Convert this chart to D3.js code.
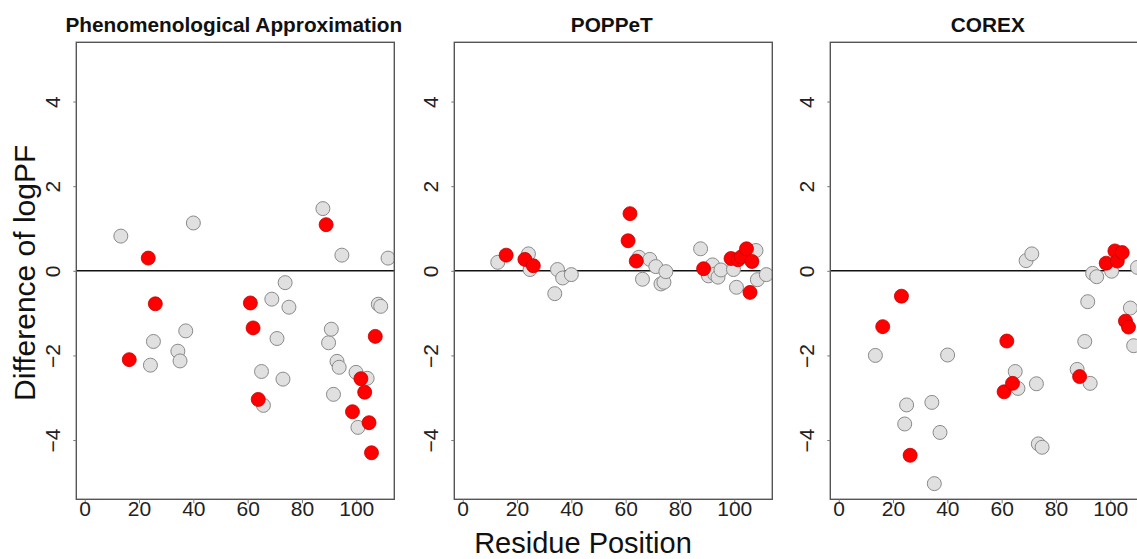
<!DOCTYPE html>
<html>
<head>
<meta charset="utf-8">
<script src="https://cdn.jsdelivr.net/npm/d3@7"></script>
<style>
  body { margin: 0; background: #fff; }
  svg { display: block; font-family: Arial, "Liberation Sans", sans-serif; }
</style>
</head>
<body>
<svg id="chart" width="1137" height="559"></svg>
<script>
// panel titles
var titles = ['Phenomenological Approximation', 'POPPeT', 'COREX'];

// [residue, difference of logPF]
var phenomGray = [[13.3,0.82],[24.2,-2.23],[25.3,-1.67],[34.3,-1.90],[35.1,-2.13],[37.2,-1.42],[40.0,1.13],
  [65.1,-2.38],[65.8,-3.18],[68.9,-0.67],[70.8,-1.60],[73.0,-2.56],[73.8,-0.28],[75.2,-0.86],[87.7,1.47],
  [89.8,-1.70],[90.8,-1.38],[91.6,-2.92],[92.9,-2.14],[93.7,-2.28],[94.7,0.37],[99.9,-2.40],[100.6,-3.70],
  [104.0,-2.54],[108.1,-0.79],[109.0,-0.84],[111.7,0.30]];
var phenomRed = [[16.4,-2.10],[23.4,0.30],[26.0,-0.78],[61.0,-0.76],[62.0,-1.35],[63.9,-3.04],[88.9,1.09],
  [98.6,-3.33],[101.7,-2.55],[103.1,-2.87],[104.7,-3.59],[105.6,-4.30],[107.0,-1.55]];

var poppetGray = [[12.9,0.20],[24.2,0.40],[24.8,0.03],[33.9,-0.54],[34.9,0.03],[36.8,-0.17],[40.0,-0.09],
  [64.9,0.32],[66.2,-0.20],[68.9,0.27],[71.1,0.10],[73.0,-0.31],[74.1,-0.27],[74.8,-0.02],[87.6,0.52],
  [90.5,-0.12],[92.0,0.14],[92.8,-0.08],[94.0,-0.15],[95.1,0.02],[99.7,0.03],[100.8,-0.39],[108.0,0.48],
  [108.5,-0.21],[111.8,-0.09]];
var poppetRed = [[16.0,0.37],[22.9,0.27],[26.0,0.12],[60.9,0.71],[61.6,1.35],[63.9,0.23],[88.7,0.05],
  [98.8,0.29],[101.4,0.26],[102.6,0.33],[104.5,0.52],[105.8,-0.51],[106.5,0.22]];

var corexGray = [[13.5,-2.00],[24.3,-3.62],[25.0,-3.17],[34.3,-3.11],[35.2,-5.03],[37.3,-3.82],[40.1,-1.99],
  [65.0,-2.38],[66.0,-2.78],[69.0,0.24],[71.1,0.40],[72.8,-2.67],[73.5,-4.09],[74.9,-4.17],[87.8,-2.33],
  [90.6,-1.67],[91.7,-0.73],[92.6,-2.66],[93.5,-0.06],[95.0,-0.14],[100.5,-0.01],[107.4,-0.88],
  [108.6,-1.77],[110.0,0.08]];
var corexRed = [[16.2,-1.32],[23.1,-0.60],[26.3,-4.36],[60.9,-2.86],[61.9,-1.66],[64.0,-2.66],[88.7,-2.50],
  [98.5,0.18],[101.7,0.47],[102.6,0.23],[104.4,0.43],[105.6,-1.19],[106.7,-1.33]];

var xTicks = [0, 20, 40, 60, 80, 100];
var yTicks = [-4, -2, 0, 2, 4];

var grays = [phenomGray, poppetGray, corexGray];
var reds = [phenomRed, poppetRed, corexRed];

var svg = d3.select('#chart');
var panelLeft = [76.3, 454.3, 830.3];
var panelW = 318, plotTop = 42.3, plotBottom = 499.3;
var fontFam = 'Arial, "Liberation Sans", sans-serif';

var y = d3.scaleLinear().domain([-5.4, 5.4]).range([plotBottom, plotTop]);

titles.forEach(function(t, i) {
  var x = d3.scaleLinear().domain([-3.1, 114]).range([panelLeft[i], panelLeft[i] + panelW]);
  var g = svg.append('g');

  g.append('clipPath').attr('id', 'clip' + i)
    .append('rect').attr('x', panelLeft[i]).attr('y', plotTop)
    .attr('width', panelW).attr('height', plotBottom - plotTop);

  // zero line
  g.append('line')
    .attr('x1', panelLeft[i]).attr('x2', panelLeft[i] + panelW)
    .attr('y1', y(0)).attr('y2', y(0))
    .attr('stroke', '#111').attr('stroke-width', 1.6);

  var pts = g.append('g').attr('clip-path', 'url(#clip' + i + ')');
  pts.selectAll('circle.gray').data(grays[i]).enter().append('circle')
    .attr('class', 'gray')
    .attr('cx', function(d) { return x(d[0]); })
    .attr('cy', function(d) { return y(d[1]); })
    .attr('r', 7)
    .attr('fill', '#e0e0e0').attr('stroke', '#8a8a8a').attr('stroke-width', 1);
  pts.selectAll('circle.red').data(reds[i]).enter().append('circle')
    .attr('class', 'red')
    .attr('cx', function(d) { return x(d[0]); })
    .attr('cy', function(d) { return y(d[1]); })
    .attr('r', 7)
    .attr('fill', '#ff0000').attr('stroke', '#c00000').attr('stroke-width', 0.8);

  // frame
  g.append('rect')
    .attr('x', panelLeft[i]).attr('y', plotTop)
    .attr('width', panelW).attr('height', plotBottom - plotTop)
    .attr('fill', 'none').attr('stroke', '#555').attr('stroke-width', 1.4);

  // x axis
  var xa = g.append('g').attr('transform', 'translate(0,' + plotBottom + ')')
    .call(d3.axisBottom(x).tickValues(xTicks).tickSize(4).tickPadding(-2));
  xa.attr('font-size', 21).attr('font-family', fontFam);
  xa.select('.domain').remove();
  xa.selectAll('line').attr('stroke', '#777');
  xa.selectAll('text').attr('fill', '#222');

  // y axis, labels parallel to the axis
  var ya = g.append('g').attr('transform', 'translate(' + panelLeft[i] + ',0)')
    .call(d3.axisLeft(y).tickValues(yTicks).tickSize(3));
  ya.attr('font-size', 21).attr('font-family', fontFam);
  ya.select('.domain').remove();
  ya.selectAll('line').attr('stroke', '#777');
  ya.selectAll('text')
    .attr('fill', '#222')
    .attr('text-anchor', 'middle').attr('dy', 0)
    .attr('x', 0).attr('y', 0)
    .attr('transform', 'translate(-16,0) rotate(-90)');

  g.append('text')
    .attr('x', panelLeft[i] + panelW / 2 - 1.5).attr('y', 32)
    .attr('text-anchor', 'middle')
    .attr('font-weight', 'bold').attr('font-size', 20.8).attr('fill', '#111')
    .text(t);
});

svg.append('text')
  .attr('transform', 'translate(35,' + ((plotTop + plotBottom) / 2 + 2) + ') rotate(-90)')
  .attr('text-anchor', 'middle').attr('font-size', 30).attr('fill', '#111')
  .text('Difference of logPF');

svg.append('text')
  .attr('x', 583).attr('y', 553)
  .attr('text-anchor', 'middle').attr('font-size', 29).attr('fill', '#111')
  .text('Residue Position');
</script>
</body>
</html>
